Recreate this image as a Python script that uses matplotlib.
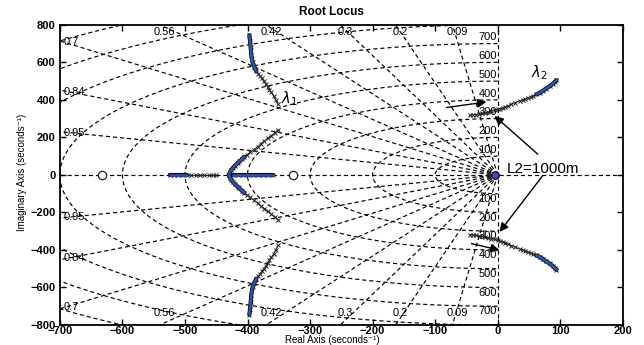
import numpy as np
import matplotlib
matplotlib.use("Agg")
import matplotlib.pyplot as plt

plt.rcParams['font.family'] = ['Liberation Sans', 'DejaVu Sans']

# ---- grid values (sgrid) ----
zeta_vals = [0.09, 0.2, 0.3, 0.42, 0.56, 0.7, 0.84, 0.95]
zeta_top = ["0.09", "0.2", "0.3", "0.42", "0.56"]
zeta_left = ["0.7", "0.84", "0.95"]
wn_vals = [100, 200, 300, 400, 500, 600, 700, 800, 900, 1000]
wn_labels = ["100", "200", "300", "400", "500", "600", "700"]

# ---- locus data (upper half; lower half is the conjugate) ----
l1a_x = [-397, -396, -395, -394, -392, -389, -386, -383, -380, -377, -374, -371, -368, -365, -362, -358, -355, -351]
l1a_y = [745, 715, 680, 640, 600, 575, 553, 540, 527, 514, 500, 486, 470, 455, 440, 420, 400, 376]
l1a_blue = 7

l1b_x = [-351, -356, -362, -368, -373, -379, -384, -390, -396, -401, -405, -409, -413, -416, -420, -423, -426, -428, -430]
l1b_y = [240, 225, 210, 195, 180, 165, 150, 135, 120, 108, 96, 84, 72, 62, 50, 38, 26, 14, 0]
l1b_blue = 9

real1_x = [-524, -518, -511, -504, -497, -490, -483, -476, -469, -462, -455, -450]
real1_blue = 5
real2_x = [-424, -416, -408, -400, -392, -384, -376, -368, -360]

l2_x = [-45, -40, -35, -30, -25, -20, -15, -10, -5, 0, 3, 8, 12, 17, 22, 28, 35, 40, 44, 48, 53, 57, 62, 67, 72, 77, 83, 88, 91, 94]
l2_y = [318, 320, 322, 325, 328, 331, 335, 339, 344, 349, 353, 357, 362, 369, 377, 385, 394, 400, 405, 411, 417, 423, 429, 437, 447, 460, 472, 485, 495, 505]
l2_blue = 8

zeros_x = [-633, -327]
origin_pole = [-4, 0]

# annotation texts
lam1_label = r"$\lambda_1$"
lam2_label = r"$\lambda_2$"
l2_text = "L2=1000m"

fig = plt.figure(figsize=(6.44, 3.45), dpi=100)
ax = fig.add_axes([0.093, 0.058, 0.874, 0.870])
ax.set_xlim(-700, 200)
ax.set_ylim(-800, 800)

gkw = dict(color='black', lw=0.85, ls=(0, (3.5, 2.5)), zorder=1)
th = np.linspace(np.pi / 2, 3 * np.pi / 2, 400)
for wn in wn_vals:
    ax.plot(wn * np.cos(th), wn * np.sin(th), **gkw)
for z in zeta_vals:
    s = np.sqrt(1 - z ** 2)
    ax.plot([0, -1500 * z], [0, 1500 * s], **gkw)
    ax.plot([0, -1500 * z], [0, -1500 * s], **gkw)
ax.plot([-700, 200], [0, 0], **gkw)
ax.plot([0, 0], [-800, 800], **gkw)

lfs = 8
for z, lab in zip(zeta_vals[:5], zeta_top):
    xr = -800 * z / np.sqrt(1 - z ** 2)
    ax.text(xr + 8, 760, lab, ha='center', va='center', fontsize=lfs, zorder=3)
    ax.text(xr + 8, -736, lab, ha='center', va='center', fontsize=lfs, zorder=3)
for z, lab in zip(zeta_vals[5:], zeta_left):
    yr = 700 * np.sqrt(1 - z ** 2) / z
    ax.text(-694, yr - 8, lab, ha='left', va='center', fontsize=lfs, zorder=3)
    ax.text(-694, -yr + 8, lab, ha='left', va='center', fontsize=lfs, zorder=3)
for wn, lab in zip(wn_vals, wn_labels):
    ax.text(-1, wn + 33, lab, ha='right', va='center', fontsize=lfs, zorder=3)
    ax.text(-1, -wn - 28, lab, ha='right', va='center', fontsize=lfs, zorder=3)

blue = '#2f55b0'
mk = dict(color='#222222', lw=0.7, marker='x', ms=3.2, mew=0.7, zorder=4)


def blue_seg(xs, ys):
    ax.plot(xs, ys, color='#111111', lw=3.0, zorder=5, solid_capstyle='round')
    ax.plot(xs, ys, color=blue, lw=1.8, zorder=6, solid_capstyle='round')


def branch(xs, ys, nb, blue_first=True):
    xs = np.asarray(xs, float)
    ys = np.asarray(ys, float)
    for sgn in (1, -1):
        ax.plot(xs, sgn * ys, **mk)
        if blue_first:
            blue_seg(xs[:nb], sgn * ys[:nb])
        else:
            blue_seg(xs[-nb:], sgn * ys[-nb:])


branch(l1a_x, l1a_y, l1a_blue, True)
branch(l1b_x, l1b_y, l1b_blue, False)
branch(l2_x, l2_y, l2_blue, False)

r1 = np.asarray(real1_x, float)
ax.plot(r1, np.zeros_like(r1), **mk)
blue_seg(r1[:real1_blue], np.zeros(real1_blue))
r2 = np.asarray(real2_x, float)
ax.plot(r2, np.zeros_like(r2), **mk)
blue_seg(r2, np.zeros_like(r2))

ax.plot(zeros_x, [0] * len(zeros_x), ls='none', marker='o', ms=6, mfc='white',
        mec='#222222', mew=0.9, zorder=7)
ax.plot([origin_pole[0]], [origin_pole[1]], ls='none', marker='o', ms=5.5, mfc=blue,
        mec='#111111', mew=0.9, zorder=7)
ax.plot([-14, -14], [6, -6], ls='none', marker='x', ms=3.5, mew=0.8, color='#222222', zorder=7)

ax.text(-333, 405, lam1_label, fontsize=10.5, ha='center', va='center', zorder=8)
ax.text(67, 546, lam2_label, fontsize=10.5, ha='center', va='center', zorder=8)
ax.text(14, 34, l2_text, fontsize=11, ha='left', va='center', zorder=8)

ap = dict(arrowstyle='-|>', mutation_scale=13, lw=1.0, color='black', shrinkA=0, shrinkB=0)
ax.annotate('', xy=(-5, 314), xytext=(64, 111), arrowprops=ap, zorder=9)
ax.annotate('', xy=(3, -304), xytext=(72, -4), arrowprops=ap, zorder=9)
ax.annotate('', xy=(-18, 389), xytext=(-82, 359), arrowprops=ap, zorder=9)
ax.annotate('', xy=(3, -401), xytext=(-42, -366), arrowprops=ap, zorder=9)

ax.set_xticks(np.arange(-700, 201, 100))
ax.set_yticks(np.arange(-800, 801, 200))
ax.tick_params(direction='in', top=True, right=True, length=4, width=1,
               labelsize=8, pad=1.0)
ax.tick_params(axis='y', pad=3.0)
for lab in ax.get_xticklabels() + ax.get_yticklabels():
    lab.set_fontweight('bold')
for sp in ax.spines.values():
    sp.set_linewidth(1.3)

fig.text(0.514, 0.966, "Root Locus", ha='center', va='center', fontsize=8.5, fontweight='bold')
fig.text(0.516, 0.0, "Real Axis (seconds⁻¹)", ha='center', va='bottom', fontsize=7,
         family=['Liberation Sans', 'DejaVu Sans'])
fig.text(0.034, 0.5, "Imaginary Axis (seconds⁻¹)", ha='center', va='center',
         fontsize=7, rotation=90, family=['Liberation Sans', 'DejaVu Sans'])

fig.savefig("out.png", dpi=100)
